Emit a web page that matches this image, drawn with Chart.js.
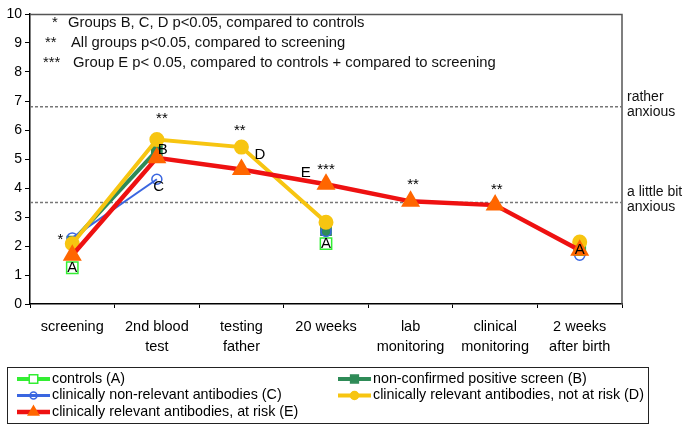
<!DOCTYPE html>
<html>
<head>
<meta charset="utf-8">
<script src="https://cdn.jsdelivr.net/npm/chart.js@4.4.0/dist/chart.umd.min.js"></script>
<style>
html, body { margin: 0; padding: 0; background: #fff; }
</style>
</head>
<body>
<canvas id="anxietyChart" width="685" height="430"></canvas>
<script>
// DATA
const stages = ['screening', ['2nd blood', 'test'], ['testing', 'father'], '20 weeks', ['lab', 'monitoring'], ['clinical', 'monitoring'], ['2 weeks', 'after birth']];
const controlsA      = [1.25, null, null, 2.08, null, null, 1.88];
const nonConfirmedB  = [2.15, 5.3,  null, 2.55, null, null, 1.95];
const nonRelevantC   = [2.28, 4.3,  null, 2.5,  null, null, 1.68];
const notAtRiskD     = [2.08, 5.67, 5.41, 2.82, null, null, 2.14];
const atRiskE        = [1.68, 5.04, 4.64, 4.13, 3.54, 3.41, 1.85];
const yTicks = [0, 10, 1];

const thresholds = [6.8, 3.5];
const thresholdLabels = [['rather', 'anxious'], ['a little bit', 'anxious']];

const noteStars = ['*', '**', '***'];
const noteTexts = ['Groups B, C, D p<0.05, compared to controls', 'All groups p<0.05, compared to screening', 'Group E p< 0.05, compared to controls + compared to screening'];

// point labels: [stage index, value, text]
const pointLabels = [
  [-0.14, 2.2, '*'], [0, 1.23, 'A'],
  [1.06, 6.4, '**'], [1.07, 5.3, 'B'], [1.02, 4.04, 'C'],
  [1.98, 5.96, '**'], [2.22, 5.16, 'D'],
  [2.76, 4.52, 'E'], [3.0, 4.62, '***'], [3.0, 2.08, 'A'],
  [4.03, 4.1, '**'], [5.02, 3.92, '**'], [6.0, 1.86, 'A']
];

const FONT = "'Liberation Sans', Arial, Helvetica, sans-serif";

// PLUGIN
const decorations = {
  id: 'decorations',
  beforeDatasetsDraw(chart) {
    const ctx = chart.ctx, area = chart.chartArea, y = chart.scales.y;
    ctx.save();
    // frame top + right
    ctx.strokeStyle = '#555';
    ctx.lineWidth = 1.5;
    ctx.beginPath();
    ctx.moveTo(area.left, area.top + 0.5);
    ctx.lineTo(area.right, area.top + 0.5);
    ctx.lineTo(area.right, area.bottom);
    ctx.stroke();
    // dashed thresholds
    ctx.strokeStyle = '#777';
    ctx.setLineDash([3, 2]);
    ctx.lineWidth = 1.5;
    thresholds.forEach(function(t) {
      const py = y.getPixelForValue(t);
      ctx.beginPath();
      ctx.moveTo(area.left, py);
      ctx.lineTo(area.right, py);
      ctx.stroke();
    });
    ctx.setLineDash([]);
    ctx.fillStyle = '#111';
    ctx.font = '14px ' + FONT;
    ctx.textBaseline = 'middle';
    ctx.textAlign = 'left';
    thresholds.forEach(function(t, i) {
      const py = y.getPixelForValue(t);
      ctx.fillText(thresholdLabels[i][0], area.right + 5, py - 10);
      ctx.fillText(thresholdLabels[i][1], area.right + 5, py + 5);
    });
    // notes
    ctx.font = '14.8px ' + FONT;
    const starX = [52, 45, 43], textX = [68, 71, 73];
    noteStars.forEach(function(s, i) {
      const py = area.top + 9 + i * 20;
      ctx.fillText(s, starX[i], py);
      ctx.fillText(noteTexts[i], textX[i], py);
    });
    ctx.restore();
  },
  afterDatasetsDraw(chart) {
    const ctx = chart.ctx, x = chart.scales.x, y = chart.scales.y;
    ctx.save();
    ctx.fillStyle = '#000';
    ctx.font = '15px ' + FONT;
    ctx.textAlign = 'center';
    ctx.textBaseline = 'middle';
    pointLabels.forEach(function(p) {
      ctx.fillText(p[2], x.getPixelForValue(p[0]), y.getPixelForValue(p[1]));
    });
    ctx.restore();
  },
  afterDraw(chart) {
    // legend box
    const ctx = chart.ctx;
    ctx.save();
    ctx.strokeStyle = '#222';
    ctx.lineWidth = 1;
    ctx.strokeRect(7.5, 367.5, 641, 56);
    ctx.font = '14.3px ' + FONT;
    ctx.textBaseline = 'middle';
    ctx.textAlign = 'left';
    ctx.fillStyle = '#000';
    const cols = [17, 338];
    const place = [[0, 0], [1, 0], [0, 1], [1, 1], [0, 2]];
    chart.data.datasets.forEach(function(ds, i) {
      const x0 = cols[place[i][0]], py = 379 + place[i][1] * 16.5;
      ctx.strokeStyle = ds.borderColor;
      ctx.lineWidth = Math.max(ds.borderWidth, 3);
      ctx.beginPath();
      ctx.moveTo(x0, py);
      ctx.lineTo(x0 + 33, py);
      ctx.stroke();
      ctx.fillStyle = ds.pointBackgroundColor;
      ctx.strokeStyle = ds.pointBorderColor;
      ctx.lineWidth = 1.5;
      Chart.helpers.drawPoint(ctx, { pointStyle: ds.pointStyle, radius: ds.legendRadius, rotation: 0, borderWidth: 1.5 }, x0 + 16.5, py);
      ctx.fillStyle = '#000';
      ctx.fillText(ds.label, x0 + 35, py);
    });
    ctx.restore();
  }
};

// GRAPH
const ctx_chart = document.getElementById('anxietyChart');

const anxietyChart = new Chart(ctx_chart, {
  type: 'line',
  data: {
    labels: stages,
    datasets: [{
      label: 'controls (A)',
      data: controlsA,
      borderColor: '#33ee33',
      borderWidth: 4,
      pointStyle: 'rect',
      pointRadius: 8,
      pointBorderWidth: 1.5,
      pointBorderColor: '#33ee33',
      pointBackgroundColor: '#ffffff',
      legendRadius: 6,
      order: 4
    }, {
      label: 'non-confirmed positive screen (B)',
      data: nonConfirmedB,
      borderColor: '#2e8b57',
      borderWidth: 4,
      pointStyle: 'rect',
      pointRadius: 5.5,
      pointBorderColor: '#2e8b57',
      pointBackgroundColor: '#2e8b57',
      legendRadius: 5.5,
      order: 3
    }, {
      label: 'clinically non-relevant antibodies (C)',
      data: nonRelevantC,
      borderColor: '#3a66e0',
      borderWidth: 2,
      pointStyle: 'circle',
      pointRadius: 5,
      pointBorderWidth: 1.5,
      pointBorderColor: '#3a66e0',
      pointBackgroundColor: 'rgba(255,255,255,0)',
      legendRadius: 3.5,
      order: 2
    }, {
      label: 'clinically relevant antibodies, not at risk (D)',
      data: notAtRiskD,
      borderColor: '#f7c511',
      borderWidth: 4,
      pointStyle: 'circle',
      pointRadius: 5.5,
      pointBorderColor: '#f7c511',
      pointBackgroundColor: '#f7c511',
      legendRadius: 4,
      order: 1
    }, {
      label: 'clinically relevant antibodies, at risk (E)',
      data: atRiskE,
      borderColor: '#ee1111',
      borderWidth: 4.5,
      pointStyle: 'triangle',
      pointRadius: 6.5,
      pointBorderColor: '#ff6600',
      pointBackgroundColor: '#ff6600',
      legendRadius: 6,
      order: 0
    }]
  },
  options: {
    responsive: false,
    animation: false,
    spanGaps: false,
    layout: { padding: { top: 14, right: 63, left: 0, bottom: 0 } },
    plugins: {
      legend: { display: false },
      tooltip: { enabled: false }
    },
    scales: {
      x: {
        offset: true,
        grid: { offset: true, drawOnChartArea: false, tickLength: 4, color: '#000', lineWidth: 1 },
        border: { color: '#000', width: 1.5 },
        ticks: { color: '#000', font: { family: FONT, size: 14.5, lineHeight: 1.4 }, padding: 9, maxRotation: 0, autoSkip: false },
        afterFit: function(scale) { scale.height = 126; }
      },
      y: {
        min: yTicks[0],
        max: yTicks[1],
        grid: { drawOnChartArea: false, tickLength: 5, color: '#000', lineWidth: 1 },
        border: { color: '#000', width: 1.5 },
        ticks: { stepSize: yTicks[2], color: '#000', font: { family: FONT, size: 14 }, padding: 3 },
        afterFit: function(scale) { scale.width = 30; }
      }
    }
  },
  plugins: [decorations]
});
</script>
</body>
</html>
